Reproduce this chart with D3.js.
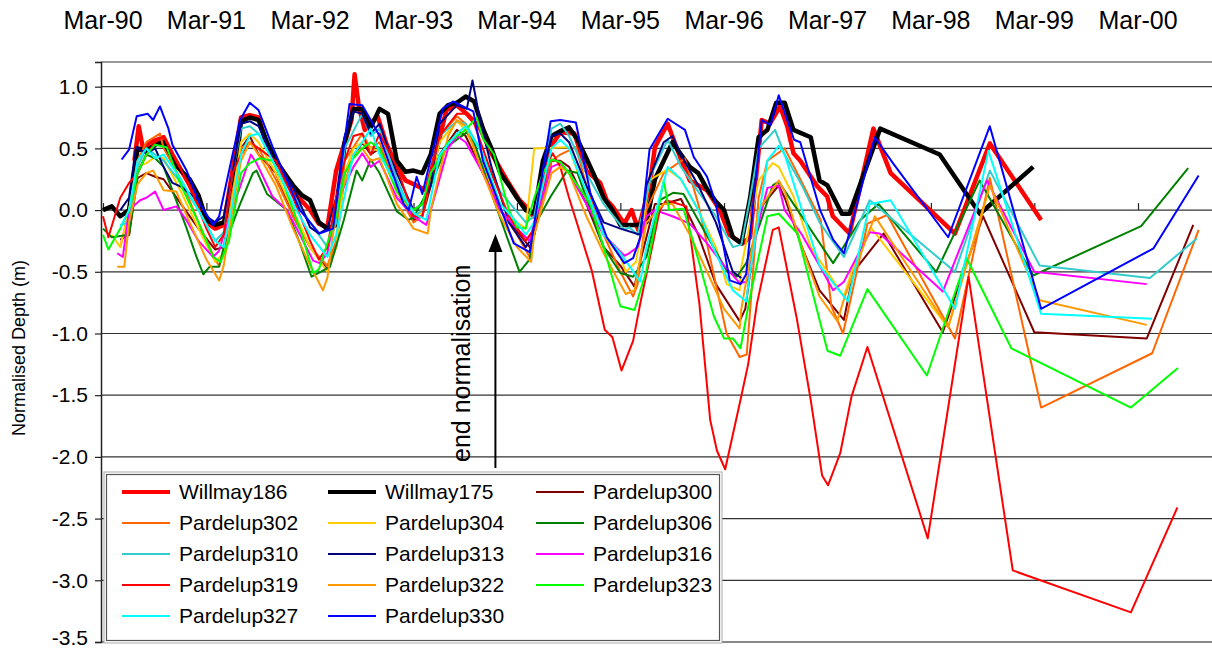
<!DOCTYPE html>
<meta charset="utf-8" />
<title>Normalised depth</title>
<style>
  body { margin: 0; background: #fff; }
  svg { font-family: "Liberation Sans", Arial, sans-serif; }
  .grid line { stroke: #333; stroke-width: 1.2px; }
  .series { fill: none; stroke-linejoin: round; }
</style>
<body>
<script src="https://cdn.jsdelivr.net/npm/d3@7"></script>
<script>
// x tick labels (top) and y ticks
var xTicks = ["Mar-90","Mar-91","Mar-92","Mar-93","Mar-94","Mar-95","Mar-96","Mar-97","Mar-98","Mar-99","Mar-00"];
var yTicks = [1.0, 0.5, 0.0, -0.5, -1.0, -1.5, -2.0, -2.5, -3.0, -3.5];

// series: [date, normalised depth (m)]
var willmay186 = [["1990-06-20",0.4],["1990-07-05",0.68],["1990-07-20",0.5],["1990-08-15",0.55],["1990-10",0.59],["1990-11",0.45],["1991-01",0.2],["1991-03",-0.1],["1991-04",-0.15],["1991-05",-0.12],["1991-06",0.32],["1991-07",0.75],["1991-08",0.77],["1991-09",0.75],["1991-10",0.51],["1991-12",0.3],["1992-01",0.15],["1992-03",0.0],["1992-04",-0.11],["1992-05",-0.14],["1992-06",0.32],["1992-07-25",0.73],["1992-08-05",1.1],["1992-08-20",0.84],["1992-09-10",0.65],["1992-10-25",0.76],["1992-11-25",0.54],["1993-01",0.35],["1993-02",0.24],["1993-03-20",0.19],["1993-04-15",0.16],["1993-05",0.3],["1993-06-25",0.81],["1993-08",0.85],["1993-09-05",0.78],["1993-10-20",0.67],["1993-12",0.46],["1994-01-25",0.24],["1994-03-10",0.08],["1994-04",0.03],["1994-04-28",-0.05],["1994-05-20",0.05],["1994-06-25",0.5],["1994-08",0.63],["1994-09-20",0.62],["1994-11",0.32],["1994-12-20",0.22],["1995-01-12",0.08],["1995-02",0.03],["1995-03-15",-0.11],["1995-04-10",0.0],["1995-05-03",-0.16],["1995-06-12",0.19],["1995-07",0.51],["1995-08-15",0.7],["1995-09-28",0.43],["1995-11",0.24],["1996-01",0.16],["1996-02-15",0.0],["1996-03-20",-0.2],["1996-05-05",-0.27],["1996-06",-0.22],["1996-07-12",0.73],["1996-08-10",0.7],["1996-09-15",0.84],["1996-10-10",0.68],["1996-11",0.46],["1996-11-25",0.4],["1997-01-25",0.19],["1997-02-28",0.11],["1997-03-20",-0.05],["1997-05-18",-0.19],["1997-08-10",0.66],["1997-10-10",0.3],["1998-05-25",-0.19],["1998-09-25",0.54],["1999-03-25",-0.08]];

var willmay175 = [["1990-03",0.0],["1990-04",0.03],["1990-05",-0.05],["1990-06",0.0],["1990-07",0.5],["1990-08",0.48],["1990-09",0.53],["1990-10",0.55],["1990-11",0.4],["1990-12",0.32],["1991-01",0.25],["1991-02",0.12],["1991-03",-0.08],["1991-04",-0.12],["1991-05",-0.1],["1991-06",0.1],["1991-07",0.72],["1991-08",0.75],["1991-09",0.73],["1991-10",0.55],["1991-11",0.4],["1991-12",0.3],["1992-01",0.2],["1992-02",0.12],["1992-03",0.08],["1992-04",-0.1],["1992-05",-0.15],["1992-06",-0.12],["1992-07",0.55],["1992-08",0.82],["1992-09",0.82],["1992-10",0.67],["1992-11",0.82],["1992-12",0.78],["1993-01",0.4],["1993-02",0.31],["1993-03",0.32],["1993-04",0.3],["1993-05",0.45],["1993-06",0.78],["1993-07",0.85],["1993-08",0.87],["1993-09",0.92],["1993-10",0.88],["1993-11",0.66],["1993-12",0.5],["1994-01",0.3],["1994-02",0.2],["1994-03",0.1],["1994-04",0.0],["1994-05",-0.03],["1994-06",0.4],["1994-07",0.6],["1994-08",0.64],["1994-09",0.67],["1994-10",0.57],["1994-11",0.42],["1994-12",0.27],["1995-01",0.1],["1995-02",0.0],["1995-03",-0.12],["1995-04",-0.12],["1995-05",-0.12],["1995-06",-0.1],["1995-07",0.25],["1995-08",0.4],["1995-09",0.55],["1995-10",0.45],["1995-11",0.35],["1995-12",0.3],["1996-01",0.17],["1996-02",0.07],["1996-03",0.0],["1996-04",-0.22],["1996-05",-0.27],["1996-06",0.1],["1996-07",0.59],["1996-08",0.65],["1996-09",0.87],["1996-10",0.87],["1996-11",0.65],["1997-01",0.59],["1997-02",0.24],["1997-03",0.2],["1997-04-21",-0.03],["1997-05-18",-0.03],["1997-09-03",0.66],["1998-04-01",0.45],["1998-08-21",-0.03],["1999-02-25",0.35]];

var pardelup300 = [["1990-05",-0.24],["1990-06",-0.2],["1990-07",0.26],["1990-08",0.3],["1990-09",0.27],["1990-10",0.25],["1990-12",0.05],["1991-02",-0.15],["1991-04",-0.32],["1991-05",-0.3],["1991-06",0.1],["1991-07",0.5],["1991-08",0.6],["1991-09",0.45],["1991-11",0.3],["1992-01",-0.05],["1992-03",-0.3],["1992-05",-0.48],["1992-06",-0.3],["1992-07",0.3],["1992-09",0.55],["1992-10",0.45],["1992-11",0.5],["1993-01",0.2],["1993-03",-0.08],["1993-04",-0.05],["1993-06",0.45],["1993-08",0.65],["1993-09",0.6],["1993-11",0.3],["1994-01",0.0],["1994-04-15",-0.3],["1994-05",-0.2],["1994-07",0.4],["1994-08",0.4],["1994-09",0.35],["1994-11",0.05],["1995-01",-0.3],["1995-03",-0.45],["1995-04-20",-0.62],["1995-05",-0.5],["1995-07",0.05],["1995-08",0.05],["1995-10",0.09],["1995-12",-0.2],["1996-02",-0.6],["1996-04-25",-0.9],["1996-05-15",-0.8],["1996-07",0.0],["1996-09-10",0.2],["1996-10",0.1],["1996-12",-0.3],["1997-02",-0.65],["1997-04-28",-0.89],["1997-06",-0.5],["1997-09-15",-0.19],["1998-04-12",-0.99],["1998-09",-0.05],["1999-03",-0.99],["2000-04",-1.04],["2000-09-12",-0.12]];

var pardelup302 = [["1990-05",-0.3],["1990-06",0.0],["1990-07",0.4],["1990-08",0.55],["1990-09-18",0.62],["1990-10",0.5],["1990-12",0.25],["1991-02",-0.1],["1991-04",-0.4],["1991-04-15",-0.45],["1991-05",-0.35],["1991-06",0.15],["1991-07",0.5],["1991-08",0.55],["1991-09",0.5],["1991-11",0.25],["1992-01",-0.05],["1992-03",-0.3],["1992-05",-0.45],["1992-06",-0.25],["1992-07",0.4],["1992-09",0.62],["1992-10",0.5],["1992-11",0.55],["1993-01",0.15],["1993-03",-0.1],["1993-04",-0.05],["1993-06",0.6],["1993-08",0.76],["1993-09",0.7],["1993-11",0.35],["1994-01",0.0],["1994-03",-0.2],["1994-04-15",-0.38],["1994-05",-0.2],["1994-07",0.4],["1994-08",0.45],["1994-09-25",0.51],["1994-11",0.2],["1995-01",-0.2],["1995-03",-0.5],["1995-04-15",-0.7],["1995-05",-0.6],["1995-06",0.0],["1995-08",0.3],["1995-10-15",0.42],["1995-12",0.05],["1996-02",-0.6],["1996-03-10",-1.0],["1996-04-25",-1.19],["1996-05-20",-1.17],["1996-07",0.1],["1996-08",0.4],["1996-10",0.5],["1996-11-10",0.32],["1997-02-05",-0.08],["1997-03-15",-0.78],["1997-04-25",-1.0],["1997-07-20",-0.11],["1997-09-28",-0.04],["1998-05-25",-1.04],["1998-09-25",0.26],["1999-03-25",-1.6],["2000-04-20",-1.16],["2000-10",-0.16]];

var pardelup304 = [["1990-04",-0.2],["1990-05",-0.3],["1990-06",0.0],["1990-07",0.35],["1990-08",0.38],["1990-09",0.43],["1990-10",0.42],["1990-12",0.15],["1991-02",-0.15],["1991-04",-0.42],["1991-05",-0.35],["1991-06",0.1],["1991-07",0.55],["1991-08",0.62],["1991-09",0.55],["1991-11",0.3],["1992-01",0.0],["1992-03",-0.3],["1992-05",-0.5],["1992-06",-0.3],["1992-07",0.3],["1992-08",0.5],["1992-09",0.55],["1992-10",0.5],["1992-11",0.48],["1993-01",0.15],["1993-03",-0.05],["1993-04",-0.02],["1993-06",0.55],["1993-08",0.72],["1993-09",0.65],["1993-11",0.35],["1994-01",0.05],["1994-03",-0.1],["1994-04",-0.15],["1994-05",0.5],["1994-09",0.51],["1994-11",0.1],["1995-01",-0.2],["1995-03",-0.38],["1995-03-20",-0.5],["1995-04-25",-0.42],["1995-06-12",0.24],["1995-07",0.27],["1995-08-15",0.33],["1995-10",0.25],["1995-12",0.0],["1996-02",-0.3],["1996-03-10",-0.6],["1996-04-25",-0.65],["1996-05",-0.46],["1996-07",0.24],["1996-08-20",0.38],["1996-09-10",0.35],["1996-11",0.11],["1997-01",-0.3],["1997-04-28",-0.7],["1997-05-25",-0.5],["1997-08",-0.14],["1998-05",-0.95],["1998-09-20",0.15]];

var pardelup306 = [["1990-03",-0.15],["1990-04",-0.22],["1990-06",-0.2],["1990-07",0.3],["1990-08",0.45],["1990-09",0.42],["1990-10",0.35],["1990-12-20",-0.14],["1991-01-25",-0.38],["1991-02-18",-0.52],["1991-03-12",-0.46],["1991-04-15",-0.46],["1991-05",-0.3],["1991-06-28",0.05],["1991-08-12",0.3],["1991-08-25",0.32],["1991-10",0.13],["1991-12-10",0.0],["1992-01-25",-0.27],["1992-03-06",-0.54],["1992-05-10",-0.46],["1992-06-28",-0.08],["1992-08-12",0.32],["1992-09",0.24],["1992-10",0.41],["1992-11",0.3],["1993-01",-0.01],["1993-02-12",-0.08],["1993-03",-0.06],["1993-04-28",0.19],["1993-06-25",0.51],["1993-09-05",0.63],["1993-10",0.55],["1993-12-05",0.11],["1994-01-25",-0.22],["1994-03-10",-0.5],["1994-04-15",-0.4],["1994-05",-0.13],["1994-06-28",0.11],["1994-08-25",0.32],["1994-10",0.3],["1995-01",-0.3],["1995-03",-0.51],["1995-04-15",-0.54],["1995-06",-0.38],["1995-07-18",0.08],["1995-09-03",0.14],["1995-10-10",0.13],["1996-03-10",-0.49],["1996-04-15",-0.54],["1996-05-18",-0.43],["1996-07-06",-0.11],["1996-08-20",0.2],["1996-09-10",0.23],["1996-11",0.05],["1997-03-21",-0.43],["1997-06-25",-0.08],["1997-08-28",0.05],["1998-03-20",-0.5],["1998-08-20",0.24],["1999-02-25",-0.53],["2000-03-12",-0.13],["2000-08-25",0.34]];

var pardelup310 = [["1990-05",-0.12],["1990-06",-0.1],["1990-07",0.35],["1990-08",0.5],["1990-09",0.45],["1990-10",0.4],["1990-12",0.22],["1991-02",0.0],["1991-04",-0.25],["1991-05",-0.18],["1991-06",0.3],["1991-07",0.66],["1991-08",0.68],["1991-09",0.62],["1991-11",0.35],["1992-01",0.12],["1992-03",-0.1],["1992-05",-0.3],["1992-06",-0.1],["1992-07",0.5],["1992-09",0.78],["1992-10",0.6],["1992-11",0.66],["1993-01",0.25],["1993-03",-0.05],["1993-04",0.0],["1993-06",0.6],["1993-08",0.72],["1993-09",0.7],["1993-11",0.45],["1994-01",0.15],["1994-04",-0.1],["1994-05",-0.05],["1994-07",0.66],["1994-08",0.7],["1994-09",0.6],["1994-11",0.3],["1995-01",0.05],["1995-03-15",-0.16],["1995-04",-0.14],["1995-05",-0.2],["1995-06-20",0.3],["1995-08-15",0.57],["1995-10",0.35],["1995-12",0.15],["1996-02",-0.05],["1996-04",-0.3],["1996-05",-0.28],["1996-06",0.1],["1996-07",0.5],["1996-08-28",0.65],["1996-10",0.45],["1996-12",0.2],["1997-02",-0.1],["1997-04-28",-0.38],["1997-07-28",0.08],["1998-05-25",-0.5],["1998-09-25",0.32],["1999-03-20",-0.45],["2000-04-12",-0.55],["2000-09-25",-0.23]];

var pardelup313 = [["1990-05",0.0],["1990-06",0.1],["1990-06-25",0.51],["1990-08",0.46],["1990-09",0.5],["1990-10",0.35],["1990-11",0.22],["1990-12",0.19],["1991-02",0.08],["1991-03",-0.05],["1991-04",-0.1],["1991-05",-0.05],["1991-06",0.3],["1991-07",0.7],["1991-08",0.72],["1991-09",0.68],["1991-10-20",0.43],["1992-01",0.19],["1992-03",-0.14],["1992-04",-0.19],["1992-05",-0.15],["1992-06",0.1],["1992-07",0.6],["1992-08",0.8],["1992-09",0.78],["1992-10",0.62],["1992-11",0.7],["1993-01",0.3],["1993-03",0.0],["1993-04",0.05],["1993-05",0.2],["1993-06",0.7],["1993-08",0.85],["1993-09-05",0.82],["1993-09-25",1.05],["1993-10-20",0.75],["1993-12",0.35],["1994-02",-0.1],["1994-04",-0.3],["1994-05",-0.2],["1994-06",0.3],["1994-07",0.6],["1994-08",0.62],["1994-09",0.55],["1994-11",0.2],["1995-01",-0.1],["1995-03",-0.15],["1995-05-10",-0.2],["1995-06",0.2],["1995-08",0.55],["1995-09",0.6],["1995-10",0.45],["1995-12",0.2],["1996-02",-0.1],["1996-04",-0.5],["1996-05",-0.55]];

var pardelup316 = [["1990-04-20",-0.35],["1990-05-10",-0.38],["1990-06",0.0],["1990-07-10",0.08],["1990-08",0.1],["1990-09",0.15],["1990-10",0.0],["1990-11-15",0.03],["1990-12-20",-0.08],["1991-02",-0.25],["1991-03-25",-0.38],["1991-04-15",-0.33],["1991-05",-0.2],["1991-06-28",0.19],["1991-08-05",0.45],["1991-08-25",0.38],["1991-10-20",0.11],["1991-12-10",0.0],["1992-01-25",-0.2],["1992-03-12",-0.41],["1992-04-03",-0.43],["1992-05",-0.35],["1992-06",0.05],["1992-08",0.35],["1992-09",0.46],["1992-10",0.35],["1992-11",0.4],["1993-01",0.1],["1993-03",-0.05],["1993-04-15",-0.12],["1993-05",0.0],["1993-07",0.5],["1993-08",0.6],["1993-09",0.55],["1993-11",0.3],["1994-01",0.0],["1994-03",-0.15],["1994-04-15",-0.25],["1994-05",-0.1],["1994-07",0.35],["1994-08",0.38],["1994-09",0.3],["1994-11",0.05],["1995-01",-0.2],["1995-03-15",-0.37],["1995-04",-0.35],["1995-05",-0.3],["1995-06",-0.05],["1995-07",0.0],["1995-09",-0.05],["1995-11",-0.11],["1996-01",-0.27],["1996-03",-0.45],["1996-04-25",-0.59],["1996-05-20",-0.58],["1996-07",-0.1],["1996-08",0.18],["1996-09-10",0.2],["1996-10",0.0],["1996-12",-0.2],["1997-02",-0.45],["1997-03-21",-0.65],["1997-04-28",-0.58],["1997-07-28",-0.18],["1997-09",-0.19],["1998-04-12",-0.66],["1998-09-15",0.24],["1999-03",-0.5],["2000-04",-0.6]];

var pardelup319 = [["1990-03",-0.05],["1990-03-20",-0.22],["1990-05",0.1],["1990-06",0.22],["1990-07",0.3],["1990-08",0.45],["1990-09",0.55],["1990-10",0.6],["1990-11",0.45],["1991-01",0.2],["1991-03",-0.15],["1991-04",-0.3],["1991-05",-0.2],["1991-06",0.3],["1991-07",0.45],["1991-08",0.55],["1991-09",0.5],["1991-10",0.45],["1991-11",0.4],["1992-01",0.1],["1992-03",-0.25],["1992-04",-0.4],["1992-05",-0.3],["1992-06",0.1],["1992-07",0.4],["1992-08",0.6],["1992-09",0.62],["1992-10",0.45],["1992-11",0.62],["1993-01",0.35],["1993-03",-0.05],["1993-04",-0.05],["1993-05",0.3],["1993-06",0.6],["1993-08",0.78],["1993-09",0.78],["1993-10",0.7],["1993-12",0.3],["1994-02",-0.05],["1994-04",-0.25],["1994-05",-0.15],["1994-06",0.3],["1994-07-05",0.46],["1994-08",0.35],["1994-09",0.1],["1994-11-20",-0.49],["1995-01-05",-0.97],["1995-02",-1.03],["1995-03-05",-1.3],["1995-04-15",-1.06],["1995-05-10",-0.76],["1995-06-12",-0.4],["1995-07-18",0.0],["1995-08-10",0.08],["1995-10-20",0.03],["1995-12-05",-0.76],["1996-01-12",-1.7],["1996-02-05",-1.95],["1996-03-05",-2.1],["1996-04-25",-1.57],["1996-05-25",-1.25],["1996-06-25",-0.76],["1996-08-10",-0.27],["1996-08-20",-0.16],["1996-09-10",-0.14],["1996-11-12",-0.87],["1997-01",-1.54],["1997-02-10",-2.15],["1997-03-03",-2.23],["1997-04-15",-1.97],["1997-05-25",-1.51],["1997-07-20",-1.11],["1998-02-18",-2.66],["1998-07-12",-0.54],["1998-12-15",-2.92],["2000-02-05",-3.26],["2000-07-18",-2.41]];

var pardelup322 = [["1990-04-20",-0.46],["1990-05-15",-0.46],["1990-06",-0.1],["1990-07",0.21],["1990-08",0.3],["1990-08-25",0.32],["1990-10",0.16],["1990-11-15",0.15],["1991-01",-0.1],["1991-03",-0.4],["1991-04-15",-0.57],["1991-05",-0.45],["1991-06",0.0],["1991-07",0.4],["1991-08",0.55],["1991-09",0.45],["1991-11",0.2],["1992-01",-0.15],["1992-03",-0.45],["1992-04-15",-0.65],["1992-05",-0.55],["1992-06",0.0],["1992-08",0.45],["1992-09",0.5],["1992-10",0.4],["1992-11",0.42],["1993-01",0.05],["1993-03",-0.15],["1993-04-20",-0.19],["1993-05",0.0],["1993-07",0.6],["1993-08",0.73],["1993-09",0.68],["1993-11",0.3],["1994-01",-0.05],["1994-03",-0.3],["1994-04-20",-0.42],["1994-05",-0.2],["1994-07",0.3],["1994-08",0.35],["1994-09",0.3],["1994-11",-0.05],["1995-01",-0.35],["1995-03-20",-0.68],["1995-04-20",-0.65],["1995-06",-0.1],["1995-08",0.05],["1995-09",0.05],["1995-11",-0.2],["1996-01",-0.5],["1996-03",-0.8],["1996-04-25",-0.96],["1996-05",-0.8],["1996-07",0.0],["1996-09-10",0.24],["1996-10",0.15],["1996-12",-0.3],["1997-02",-0.7],["1997-04-05",-0.9],["1997-05",-0.7],["1997-08-15",-0.05],["1998-05",-0.95],["1998-09-25",0.2],["1999-03-20",-0.73],["2000-04",-0.93]];

var pardelup323 = [["1990-03",-0.2],["1990-03-20",-0.32],["1990-05",-0.15],["1990-06",0.0],["1990-07",0.3],["1990-08",0.45],["1990-09",0.53],["1990-10-12",0.51],["1990-12",0.2],["1991-02",-0.1],["1991-03-25",-0.38],["1991-04-20",-0.42],["1991-05-20",-0.25],["1991-07",0.3],["1991-08",0.38],["1991-09-05",0.42],["1991-10-20",0.4],["1991-12",0.2],["1992-02",-0.2],["1992-03-12",-0.51],["1992-04",-0.48],["1992-06",-0.05],["1992-07",0.3],["1992-08",0.42],["1992-09",0.5],["1992-10",0.55],["1992-11",0.5],["1993-01",0.15],["1993-03",0.0],["1993-04",0.05],["1993-05",0.3],["1993-07",0.55],["1993-09",0.65],["1993-10-10",0.75],["1993-11",0.58],["1993-12-10",0.45],["1994-02",0.0],["1994-03",-0.14],["1994-04",-0.15],["1994-05",0.1],["1994-06",0.3],["1994-07",0.41],["1994-08",0.39],["1994-09",0.3],["1994-11-15",0.05],["1995-01",-0.3],["1995-03",-0.78],["1995-04-20",-0.81],["1995-06",-0.49],["1995-08",0.24],["1995-08-20",0.0],["1995-10-10",0.01],["1995-12",-0.4],["1996-01-25",-0.86],["1996-03",-1.04],["1996-04",-1.04],["1996-04-28",-1.12],["1996-06",-0.7],["1996-08",-0.05],["1996-09-10",-0.03],["1996-11-15",-0.19],["1997-03-01",-1.14],["1997-04-15",-1.18],["1997-07-20",-0.64],["1998-02-15",-1.34],["1998-07-05",-0.39],["1998-12-10",-1.12],["2000-02-05",-1.6],["2000-07-20",-1.28]];

var pardelup327 = [["1990-05",-0.14],["1990-06",0.0],["1990-07",0.4],["1990-08",0.5],["1990-09",0.42],["1990-10",0.45],["1990-12",0.25],["1991-02",0.0],["1991-04",-0.25],["1991-05",-0.3],["1991-06",0.05],["1991-07",0.45],["1991-08",0.6],["1991-09",0.62],["1991-11",0.35],["1992-01",0.05],["1992-03",-0.2],["1992-05",-0.38],["1992-06",-0.2],["1992-08",0.45],["1992-09",0.55],["1992-10",0.66],["1992-11",0.45],["1993-01",0.2],["1993-03",-0.02],["1993-03-20",-0.05],["1993-04-15",-0.08],["1993-06",0.45],["1993-08",0.62],["1993-09",0.68],["1993-11",0.45],["1994-01",0.05],["1994-03",-0.1],["1994-04",-0.2],["1994-05",-0.1],["1994-07",0.5],["1994-08",0.57],["1994-09",0.5],["1994-11",0.15],["1995-01",-0.2],["1995-03",-0.35],["1995-04",-0.45],["1995-05-10",-0.58],["1995-06",-0.3],["1995-08-15",0.35],["1995-10",0.25],["1995-12",0.0],["1996-02",-0.35],["1996-04",-0.65],["1996-05-18",-0.74],["1996-06",-0.5],["1996-08",0.4],["1996-09-10",0.52],["1996-10",0.45],["1996-12",0.0],["1997-02",-0.45],["1997-05-12",-0.74],["1997-07-28",0.05],["1997-10-10",0.08],["1998-05-25",-0.8],["1998-09-20",0.48],["1999-03-25",-0.84],["2000-04-20",-0.88]];

var pardelup330 = [["1990-05-06",0.41],["1990-06",0.49],["1990-06-28",0.76],["1990-08-06",0.78],["1990-08-25",0.73],["1990-09-18",0.84],["1990-10-18",0.66],["1990-11",0.53],["1990-12-21",0.32],["1991-02-06",0.05],["1991-03-25",-0.12],["1991-04-15",-0.05],["1991-06-28",0.73],["1991-08",0.87],["1991-09",0.81],["1991-10-21",0.51],["1992-01-25",0.0],["1992-04-03",-0.19],["1992-05-21",-0.15],["1992-07-18",0.86],["1992-09",0.85],["1992-10",0.73],["1992-11",0.6],["1993-01-25",0.05],["1993-02-12",0.0],["1993-03-12",0.27],["1993-04",0.13],["1993-06-12",0.82],["1993-07-18",0.88],["1993-09-28",0.8],["1993-11",0.4],["1994-02-18",-0.27],["1994-04-15",-0.34],["1994-06-28",0.72],["1994-08",0.73],["1994-09-25",0.71],["1994-11-15",0.14],["1995-01-12",-0.22],["1995-03-15",-0.43],["1995-04-15",-0.39],["1995-05-10",-0.22],["1995-06-12",0.49],["1995-08-15",0.74],["1995-10-15",0.65],["1995-11-15",0.43],["1996-01",0.27],["1996-02",0.05],["1996-03-21",-0.57],["1996-04-28",-0.6],["1996-05-18",-0.52],["1996-07-12",0.73],["1996-08-12",0.69],["1996-09-10",0.93],["1996-11-03",0.57],["1996-11-25",0.55],["1997-02-03",0.0],["1997-03-21",-0.24],["1997-04-28",-0.35],["1997-08-15",0.59],["1997-10-18",0.38],["1998-05",-0.22],["1998-09-25",0.68],["1999-03-25",-0.8],["2000-04-25",-0.31],["2000-10",0.28]];

var seriesNames = ["Willmay186","Willmay175","Pardelup300","Pardelup302","Pardelup304","Pardelup306","Pardelup310","Pardelup313","Pardelup316","Pardelup319","Pardelup322","Pardelup323","Pardelup327","Pardelup330"];
var seriesData = [willmay186, willmay175, pardelup300, pardelup302, pardelup304, pardelup306, pardelup310, pardelup313, pardelup316, pardelup319, pardelup322, pardelup323, pardelup327, pardelup330];
var seriesColors = ["#ff0000","#000000","#800000","#ff6600","#ffcc00","#008000","#33cccc","#000080","#ff00ff","#ff0000","#ff9900","#00ff00","#00ffff","#0000ff"];
var seriesWidths = [4.5,4.5,2,2,2,2,2,2,2,2,2,2,2,2];

var width = 1212, height = 652;
var plot = { left: 101, right: 1212, top: 62, bottom: 642 };

var parseDay = d3.timeParse("%Y-%m-%d"),
  parseMonth = d3.timeParse("%Y-%m"),
  parseTick = d3.timeParse("%b-%y");
function parseDate(s) { return parseDay(s) || parseMonth(s); }

var x = d3.scaleTime()
  .domain([parseTick("Mar-90"), parseTick("Mar-00")])
  .range([103, 1138]);
var y = d3.scaleLinear().domain([-3.5, 1.2]).range([plot.bottom, plot.top]);

var svg = d3.select("body").append("svg")
  .attr("width", width).attr("height", height);

svg.append("rect").attr("width", width).attr("height", height).attr("fill", "#fff");

// gridlines
svg.append("g").attr("class", "grid")
  .selectAll("line").data(yTicks).enter().append("line")
  .attr("x1", plot.left).attr("x2", plot.right)
  .attr("y1", function (d) { return y(d); })
  .attr("y2", function (d) { return y(d); })
  .style("stroke", function (d) { return d === -3.5 ? "#888" : "#333"; })
  .style("stroke-width", function (d) { return d === -3.5 ? 2 : 1.2; });

// top border of plot area
svg.append("line")
  .attr("x1", plot.left).attr("x2", plot.right)
  .attr("y1", plot.top).attr("y2", plot.top)
  .attr("stroke", "#999").attr("stroke-width", 2);

// y axis
var yAxis = d3.axisLeft(y).tickValues(yTicks).tickSize(6).tickPadding(7)
  .tickFormat(function (d) { return d.toFixed(1); });
var gy = svg.append("g").attr("transform", "translate(" + plot.left + ",0)").call(yAxis);
gy.select(".domain").attr("stroke", "#222").attr("stroke-width", 1.5);
gy.selectAll(".tick line").attr("stroke", "#222").attr("stroke-width", 1.2);
gy.selectAll(".tick text")
  .attr("font-size", 21)
  .attr("font-family", "Liberation Sans, Arial, sans-serif")
  .attr("fill", "#000")
  .attr("dy", function (d) { return d === -3.5 ? "0.1em" : "0.32em"; });

// x ticks on the zero line
var xTickDates = xTicks.map(parseTick);
var xAxis = d3.axisTop(x).tickValues(xTickDates).tickSize(7).tickFormat("");
var gx = svg.append("g").attr("transform", "translate(0," + y(0) + ")").call(xAxis);
gx.select(".domain").remove();
gx.selectAll(".tick line").attr("stroke", "#222").attr("stroke-width", 1.2);

// x labels along the top
svg.append("g").selectAll("text").data(xTicks).enter().append("text")
  .attr("x", function (d) { return x(parseTick(d)); })
  .attr("y", 29)
  .attr("text-anchor", "middle")
  .attr("font-size", 25)
  .text(function (d) { return d; });

// y title
svg.append("text")
  .attr("transform", "translate(25," + ((plot.top + plot.bottom) / 2 - 4) + ") rotate(-90)")
  .attr("text-anchor", "middle")
  .attr("font-size", 18)
  .text("Normalised Depth (m)");

// series lines
var line = d3.line()
  .x(function (d) { return x(parseDate(d[0])); })
  .y(function (d) { return y(d[1]); });

svg.append("g").selectAll("path").data(seriesData).enter().append("path")
  .attr("class", "series")
  .attr("d", line)
  .attr("stroke", function (d, i) { return seriesColors[i]; })
  .attr("stroke-width", function (d, i) { return seriesWidths[i]; });

// "end normalisation" annotation
var ax = x(parseDate("1993-12-15"));
svg.append("line")
  .attr("x1", ax).attr("x2", ax).attr("y1", 468).attr("y2", 250)
  .attr("stroke", "#000").attr("stroke-width", 2);
svg.append("path")
  .attr("d", "M" + ax + ",234L" + (ax - 7) + ",252L" + (ax + 7) + ",252Z")
  .attr("fill", "#000");
svg.append("text")
  .attr("transform", "translate(" + (ax - 25) + ",462) rotate(-90)")
  .attr("font-size", 25)
  .text("end normalisation");

// legend
var legend = svg.append("g");
legend.append("rect")
  .attr("x", 104).attr("y", 472).attr("width", 618).attr("height", 171)
  .attr("fill", "#fff").attr("stroke", "#aaa").attr("stroke-width", 1);
legend.append("rect")
  .attr("x", 106.5).attr("y", 474.5).attr("width", 613).attr("height", 166)
  .attr("fill", "#fff").attr("stroke", "#555").attr("stroke-width", 1.2);

var colX = [122, 328, 536];
var item = legend.selectAll(".item").data(seriesNames).enter().append("g")
  .attr("transform", function (d, i) {
    return "translate(" + colX[i % 3] + "," + (492 + 31 * Math.floor(i / 3)) + ")";
  });
item.append("line")
  .attr("x1", 0).attr("x2", 48)
  .attr("stroke", function (d, i) { return seriesColors[i]; })
  .attr("stroke-width", function (d, i) { return seriesWidths[i] > 3 ? 4 : 2; });
item.append("text")
  .attr("x", 57).attr("dy", "0.35em")
  .attr("font-size", 21)
  .text(function (d) { return d; });
</script>
</body>
